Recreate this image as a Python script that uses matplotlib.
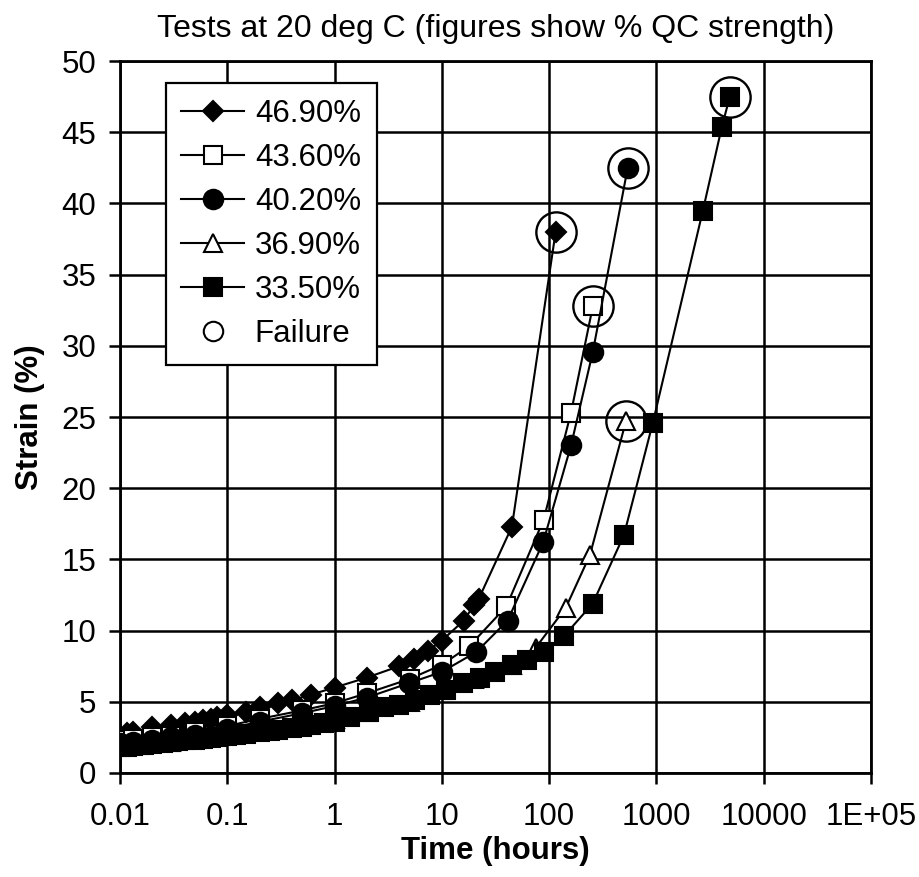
import numpy as np
import matplotlib.pyplot as plt
from matplotlib.lines import Line2D

plt.rcParams['font.family'] = ['Liberation Sans', 'DejaVu Sans']

# 46.9 % QC strength
t_469 = [0.01, 0.0117, 0.0133, 0.02, 0.03, 0.04, 0.05, 0.06, 0.07, 0.08, 0.1, 0.15, 0.2,
         0.3, 0.4, 0.6, 1.0, 2.0, 4.0, 5.5, 7.5, 10, 16, 20, 22, 45, 115]
s_469 = [2.6, 2.8, 2.9, 3.2, 3.4, 3.5, 3.6, 3.7, 3.8, 3.9, 4.1, 4.3, 4.6,
         4.9, 5.1, 5.5, 6.0, 6.7, 7.5, 8.0, 8.6, 9.3, 10.7, 11.8, 12.2, 17.3, 38.0]

# 43.6 %
t_436 = [0.01, 0.0133, 0.02, 0.03, 0.05, 0.1, 0.2, 0.5, 1.0, 2.0, 5.0, 10, 18, 40, 89, 160, 256]
s_436 = [2.3, 2.4, 2.5, 2.6, 2.9, 3.3, 3.8, 4.4, 4.9, 5.6, 6.6, 7.6, 8.9, 11.7, 17.8, 25.3, 32.8]

# 40.2 %
t_402 = [0.01, 0.0133, 0.02, 0.03, 0.05, 0.1, 0.2, 0.5, 1.0, 2.0, 4.9, 10, 21, 41, 88, 160, 256, 540]
s_402 = [2.1, 2.2, 2.3, 2.5, 2.7, 3.1, 3.6, 4.2, 4.7, 5.3, 6.3, 7.1, 8.5, 10.7, 16.2, 23.0, 29.6, 42.5]

# 36.9 %
t_369 = [0.01, 0.0133, 0.02, 0.03, 0.05, 0.1, 0.2, 0.5, 1.0, 2.0, 5.0, 10, 20, 45, 75, 143, 240, 520]
s_369 = [1.9, 2.0, 2.1, 2.2, 2.4, 2.7, 3.0, 3.4, 3.8, 4.3, 5.0, 5.8, 6.6, 7.6, 8.8, 11.6, 15.3, 24.7]

# 33.5 %
t_335 = [0.01, 0.0117, 0.0133, 0.015, 0.0167, 0.02, 0.025, 0.03, 0.035, 0.04, 0.05, 0.06, 0.07,
         0.08, 0.1, 0.12, 0.15, 0.2, 0.25, 0.3, 0.4, 0.5, 0.6, 0.8, 1.0, 1.4, 2.1, 2.9, 4.0, 5.6,
         7.8, 11, 15.7, 22.6, 31, 45, 62, 89, 137, 255, 498, 927, 2713, 4080, 4840]
s_335 = [1.8, 1.85, 1.9, 1.95, 2.0, 2.05, 2.1, 2.2, 2.25, 2.3, 2.35, 2.4, 2.45,
         2.5, 2.6, 2.65, 2.75, 2.85, 2.95, 3.05, 3.15, 3.25, 3.35, 3.5, 3.6, 3.9, 4.3, 4.6, 4.8, 5.1,
         5.5, 5.8, 6.3, 6.7, 7.1, 7.6, 7.9, 8.5, 9.6, 11.9, 16.7, 24.6, 39.5, 45.4, 47.5]

labels = ['46.90%', '43.60%', '40.20%', '36.90%', '33.50%']
xtick_vals = [0.01, 0.1, 1, 10, 100, 1000, 10000, 100000]
xtick_labels = ['0.01', '0.1', '1', '10', '100', '1000', '10000', '1E+05']

series = [(t_469, s_469, 'D', 'k', 10.5),
          (t_436, s_436, 's', 'none', 13),
          (t_402, s_402, 'o', 'k', 14),
          (t_369, s_369, '^', 'none', 13),
          (t_335, s_335, 's', 'k', 13)]

fs = 22.5

fig = plt.figure(figsize=(9.2, 8.77), dpi=100)
ax = fig.add_axes([0.1304, 0.1186, 0.8163, 0.8118])

handles = []
for (t, s, m, fc, ms), lab in zip(series, labels):
    ax.plot(t, s, color='k', lw=1.5, marker=m, ms=ms, mfc=fc if fc == 'k' else 'white',
            mec='k', mew=1.5, zorder=3)
    # failure point = last reading
    ax.plot(t[-1], s[-1], ls='none', marker='o', ms=29, mfc='none', mec='k', mew=1.7, zorder=4)
    handles.append(Line2D([], [], color='k', lw=1.5, marker=m, ms=ms,
                          mfc=fc if fc == 'k' else 'white', mec='k', mew=1.5, label=lab))
handles.append(Line2D([], [], ls='none', marker='o', ms=14, mfc='white', mec='k', mew=1.5,
                      label='Failure'))

ax.set_xscale('log')
ax.set_xlim(0.01, 100000)
ax.set_ylim(0, 50)
ax.set_xticks(xtick_vals)
ax.set_xticklabels(xtick_labels)
ax.xaxis.set_minor_locator(plt.NullLocator())
ax.set_yticks(np.arange(0, 51, 5))
ax.grid(True, color='k', lw=1.8)
ax.set_axisbelow(True)
for sp in ax.spines.values():
    sp.set_linewidth(2)
ax.tick_params(axis='both', labelsize=fs, direction='out', width=1.8, color='k')
ax.tick_params(axis='x', length=8, pad=13)
ax.tick_params(axis='y', length=8, pad=9)

ax.set_title('Tests at 20 deg C (figures show % QC strength)', fontsize=23, pad=17)
ax.set_xlabel('Time (hours)', fontsize=fs, fontweight='bold', labelpad=3)
ax.set_ylabel('Strain (%)', fontsize=fs, fontweight='bold', labelpad=12)

leg = ax.legend(handles=handles, loc='upper left', bbox_to_anchor=(0.061, 0.969),
                borderaxespad=0, fontsize=fs, handlelength=2.0, handletextpad=0.35,
                labelspacing=0.45, borderpad=0.5, fancybox=False, framealpha=1,
                edgecolor='k')
leg.get_frame().set_linewidth(1.6)
leg.set_zorder(5)

plt.savefig('out.png', dpi=100)
